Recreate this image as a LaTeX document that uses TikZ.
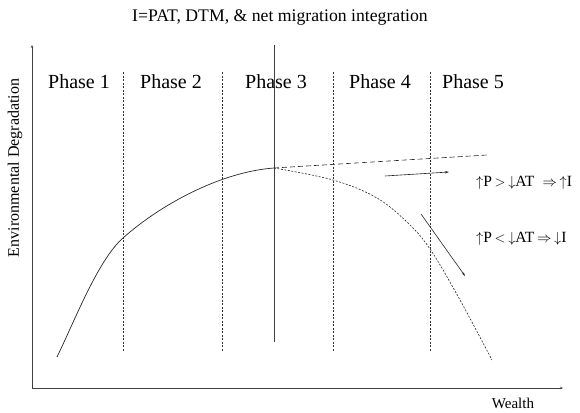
\documentclass[tikz,border=0pt]{standalone}
\usepackage{fontspec}
\setmainfont{Liberation Serif}
\usepackage{tikz}
\usetikzlibrary{calc,arrows.meta}

\begin{document}
\begin{tikzpicture}[x=1pt,y=-1pt,
  axisline/.style={black!75, line width=0.7pt, -{Stealth[length=3pt,width=2.5pt]}},
  divider/.style={black!80, line width=0.5pt, dash pattern=on 2pt off 1.5pt},
  trend/.style={black!85, line width=0.6pt, -{Stealth[length=4pt,width=2.5pt]}},
  phaselabel/.style={font=\fontsize{20}{22}\selectfont},
  rulelabel/.style={font=\fontsize{15.6}{17}\selectfont, anchor=west, inner sep=0pt}]
  \useasboundingbox (0,0) rectangle (580,412);
  % title
  \node[font=\fontsize{17.7}{20}\selectfont] (title) at (280,18) {I=PAT, DTM, \& net migration integration};
  % axes
  \coordinate (origin) at (32,388);
  \coordinate (ytop) at (32,45);
  \coordinate (xend) at (563,388);
  \draw[axisline] (origin) -- (ytop);
  \draw[axisline] (origin) -- (xend);
  \node[rotate=90, font=\fontsize{16}{18}\selectfont] (ylab) at (15,168) {Environmental Degradation};
  \node[font=\fontsize{15}{16}\selectfont, inner sep=0pt] (xlab) at (513,403) {Wealth};

  % phase dividers
  \foreach \x in {123, 222, 333, 430} {
    \draw[divider] (\x,72) -- (\x,352);
  }
  \coordinate (p3top) at (274,45);
  \coordinate (p3bot) at (274,342);
  \draw[black!75, line width=0.7pt] (p3top) -- (p3bot);

  % phase names
  \foreach \x/\n in {79/1, 171/2, 276/3, 380/4, 473/5} {
    \node[phaselabel] (phase\n) at (\x,82) {Phase \n};
  }

  % degradation curve
  \coordinate (peak) at (274,168);
  \draw[black!85, line width=0.7pt] (57,357) .. controls (75,320) and (98,260) .. (123,238)
    .. controls (160,205) and (220,172) .. (peak);
  \draw[black!85, line width=0.6pt, dash pattern=on 5pt off 3pt] (peak) -- (487,155);
  \draw[black!85, line width=0.6pt, dash pattern=on 2pt off 1.5pt] plot[smooth, tension=0.6] coordinates
    {(peak) (333,180) (377,198) (410,225) (432,252) (460,300) (492,360)};

  % trend arrows and rules
  \coordinate (upa) at (385,176);
  \coordinate (upb) at (449,172);
  \coordinate (dna) at (421,214);
  \coordinate (dnb) at (465,276);
  \draw[trend] (upa) -- (upb);
  \draw[trend] (dna) -- (dnb);
  \node[rulelabel] (ruleup) at (476,183) {$\uparrow$P\,$>$\,$\downarrow$AT\; $\Rightarrow$\,$\uparrow$I};
  \node[rulelabel] (ruledn) at (476,239) {$\uparrow$P\,$<$\,$\downarrow$AT\,$\Rightarrow$\,$\downarrow$I};
\end{tikzpicture}
\end{document}
